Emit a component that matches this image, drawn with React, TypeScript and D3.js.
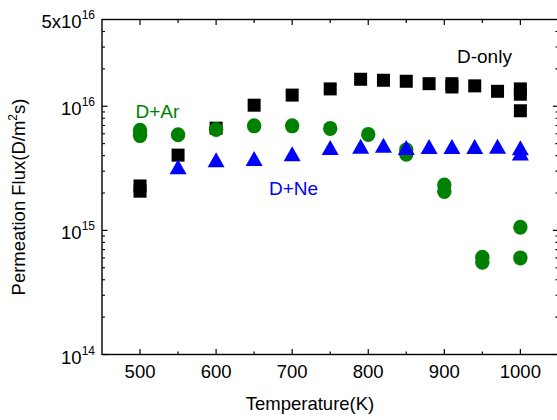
import React from 'react'
import * as d3 from 'd3'

// temperatures (K) and permeation flux (D/m^2 s)
const dOnlyT = [500, 500, 550, 600, 650, 700, 750, 790, 820, 850, 880, 910, 910, 940, 970, 1000, 1000, 1000]
const dOnlyV = [2.28e15, 2.07e15, 4.04e15, 6.66e15, 1.02e16, 1.23e16, 1.38e16, 1.65e16, 1.62e16, 1.59e16, 1.52e16, 1.52e16, 1.43e16, 1.46e16, 1.32e16, 1.38e16, 1.25e16, 9.2e15]

const dArT = [500, 500, 550, 600, 650, 700, 750, 800, 850, 850, 900, 900, 950, 950, 1000, 1000]
const dArV = [6.4e15, 5.8e15, 5.9e15, 6.5e15, 6.95e15, 6.95e15, 6.63e15, 5.93e15, 4.45e15, 4.1e15, 2.32e15, 2.06e15, 6.07e14, 5.53e14, 1.06e15, 6.0e14]

const dNeT = [550, 600, 650, 700, 750, 790, 820, 850, 880, 910, 940, 970, 1000, 1000]
const dNeV = [3.25e15, 3.7e15, 3.8e15, 4.14e15, 4.66e15, 4.77e15, 4.84e15, 4.66e15, 4.74e15, 4.74e15, 4.74e15, 4.77e15, 4.64e15, 4.2e15]

const xTicks = [500, 600, 700, 800, 900, 1000]
const xMinor = [550, 650, 750, 850, 950]
const yTicks = [1e14, 1e15, 1e16]
const yTickExp = ['14', '15', '16']

const W = 557
const H = 420
const font = 'Liberation Sans, Arial, sans-serif'
const green = '#008000'
const blue = '#0000ff'

const App = () => {
  const x = d3.scaleLinear().domain([450, 1050]).range([102, 558.4])
  const y = d3.scaleLog().domain([1e14, 5e16]).range([354.5, 19.5])

  const left = x.range()[0]
  const right = x.range()[1]
  const top = y.range()[1]
  const bottom = y.range()[0]

  // minor log ticks 2..9 per decade up to the top
  const yMinor: number[] = []
  for (let e = 14; e <= 16; e++) {
    for (let k = 2; k <= 9; k++) {
      const v = k * Math.pow(10, e)
      if (v < 5e16) yMinor.push(v)
    }
  }

  const tri = (cx: number, cy: number) => {
    const w = 8.5, h = 7.5
    return `M${cx},${cy - h}L${cx + w},${cy + h}L${cx - w},${cy + h}Z`
  }

  return (
    <svg width={W} height={H} style={{ position: 'absolute', left: 0, top: 0, background: '#fff' }} fontFamily={font}>
      {/* frame */}
      <rect x={left} y={top} width={right - left} height={bottom - top} fill="none" stroke="#000" strokeWidth={1.4} />

      {/* x ticks, bottom and top, inward */}
      {xTicks.map(t => (
        <g key={'xt' + t}>
          <line x1={x(t)} x2={x(t)} y1={bottom} y2={bottom - 5.5} stroke="#000" strokeWidth={1.2} />
          <line x1={x(t)} x2={x(t)} y1={top} y2={top + 5.5} stroke="#000" strokeWidth={1.2} />
          <text x={x(t)} y={378} textAnchor="middle" fontSize={18.5}>{t}</text>
        </g>
      ))}
      {xMinor.map(t => (
        <g key={'xm' + t}>
          <line x1={x(t)} x2={x(t)} y1={bottom} y2={bottom - 3} stroke="#000" strokeWidth={1.2} />
          <line x1={x(t)} x2={x(t)} y1={top} y2={top + 3.5} stroke="#000" strokeWidth={1.2} />
        </g>
      ))}

      {/* y ticks, left and right, inward */}
      {yTicks.map((t, i) => (
        <g key={'yt' + t}>
          <line x1={left} x2={left + 5.5} y1={y(t)} y2={y(t)} stroke="#000" strokeWidth={1.2} />
          <line x1={right} x2={right - 5.5} y1={y(t)} y2={y(t)} stroke="#000" strokeWidth={1.2} />
          <text x={95} y={y(t) + 9} textAnchor="end" fontSize={18.5}>
            <tspan>10</tspan>
            <tspan dy={-9} fontSize={12}>{yTickExp[i]}</tspan>
          </text>
        </g>
      ))}
      {yMinor.map(t => (
        <g key={'ym' + t}>
          <line x1={left} x2={left + 3} y1={y(t)} y2={y(t)} stroke="#000" strokeWidth={1.1} />
          <line x1={right} x2={right - 3} y1={y(t)} y2={y(t)} stroke="#000" strokeWidth={1.1} />
        </g>
      ))}
      <text x={95} y={y(5e16) + 8} textAnchor="end" fontSize={18.5}>
        <tspan>5x10</tspan>
        <tspan dy={-9} fontSize={12}>16</tspan>
      </text>

      {/* axis titles */}
      <text x={310} y={410} textAnchor="middle" fontSize={18.5}>Temperature(K)</text>
      <text transform="translate(25,197) rotate(-90)" textAnchor="middle" fontSize={18.5}>
        <tspan>Permeation Flux(D/m</tspan>
        <tspan dy={-8} fontSize={12}>2</tspan>
        <tspan dy={8}>s)</tspan>
      </text>

      {/* D-only squares */}
      {dOnlyT.map((t, i) => (
        <rect key={'s' + i} x={x(t) - 6.5} y={y(dOnlyV[i]) - 6.5} width={13} height={13} fill="#000" />
      ))}
      {/* D+Ar circles */}
      {dArT.map((t, i) => (
        <ellipse key={'c' + i} cx={x(t)} cy={y(dArV[i])} rx={7.2} ry={7.5} fill={green} />
      ))}
      {/* D+Ne triangles */}
      {dNeT.map((t, i) => (
        <path key={'t' + i} d={tri(x(t), y(dNeV[i]))} fill={blue} />
      ))}

      {/* series labels */}
      <text x={457} y={63} fontSize={19} fill="#000">D-only</text>
      <text x={135.5} y={118} fontSize={19} fill={green}>D+Ar</text>
      <text x={269} y={195} fontSize={19} fill={blue}>D+Ne</text>
    </svg>
  )
}

export default App
